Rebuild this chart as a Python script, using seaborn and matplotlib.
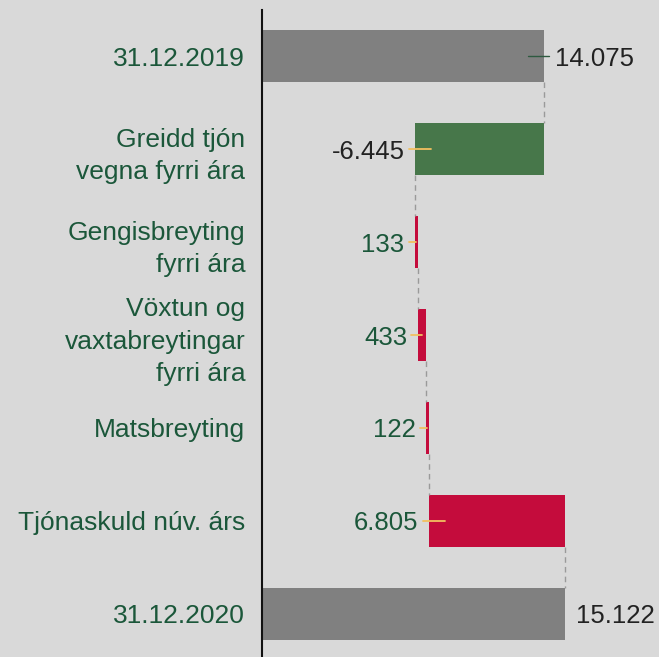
import numpy as np
import pandas as pd
import matplotlib
matplotlib.use("Agg")
import matplotlib.pyplot as plt
import seaborn as sns

# --- Data ---
categories = ["31.12.2019", "Greidd tjón\nvegna fyrri ára", "Gengisbreyting\nfyrri ára",
              "Vöxtun og\nvaxtabreytingar\nfyrri ára", "Matsbreyting",
              "Tjónaskuld núv. árs", "31.12.2020"]
values = [14075, -6445, 133, 433, 122, 6805, 15122]
is_total = [True, False, False, False, False, False, True]
value_labels = ["14.075", "-6.445", "133", "433", "122", "6.805", "15.122"]

BG = "#d9d9d9"
GRAY = "#808080"
GREEN = "#47774a"
RED = "#c40c3c"
TXT_GREEN = "#1b573a"

# waterfall geometry
lefts, widths, ends = [], [], []
running = 0
for v, tot in zip(values, is_total):
    if tot:
        lefts.append(0)
        widths.append(v)
        running = v
    else:
        new = running + v
        lefts.append(min(running, new))
        widths.append(abs(v))
        running = new
    ends.append(running)

df = pd.DataFrame({"cat": categories, "width": widths, "left": lefts})

sns.set_theme(style="white")
plt.rcParams["font.family"] = ["Liberation Sans", "DejaVu Sans"]

fig = plt.figure(figsize=(6.59, 6.57), dpi=100, facecolor=BG)
ax = fig.add_axes([0.3976, -0.005, 0.6024, 0.99])
ax.set_facecolor(BG)

bar_h = 0.56
sns.barplot(data=df, x="width", y="cat", orient="h", width=bar_h,
            color=GRAY, ax=ax, saturation=1)

for i, p in enumerate(ax.patches):
    p.set_x(lefts[i])
    if is_total[i]:
        p.set_facecolor(GRAY)
    elif values[i] < 0:
        p.set_facecolor(GREEN)
    else:
        p.set_facecolor(RED)
    p.set_edgecolor("none")

# connectors
for i in range(len(values) - 1):
    ax.plot([ends[i], ends[i]], [i + bar_h / 2, i + 1 - bar_h / 2],
            ls=(0, (4, 3)), color="#9a9a9a", lw=1, zorder=1)

# value labels + little marker lines
for i, (v, tot) in enumerate(zip(values, is_total)):
    if tot:
        ax.annotate(value_labels[i], (ends[i], i), xytext=(8, 0),
                    textcoords="offset points", ha="left", va="center_baseline",
                    fontsize=18.5, color="#222222")
        if i == 0:
            ax.plot([ends[i] - 800, ends[i] + 250], [i, i], color="#2e5a40", lw=1, zorder=3)
    else:
        start = lefts[i]
        col = "#222222" if v < 0 else TXT_GREEN
        ax.annotate(value_labels[i], (start, i), xytext=(-7.5, 0),
                    textcoords="offset points", ha="right", va="center_baseline",
                    fontsize=18.5, color=col)
        ax.plot([start - 300, start + min(800, abs(v) / 2)], [i, i],
                color="#f2c060", lw=1.3, zorder=3)

ax.set_xlim(0, 19820)
ax.set_ylim(6.5, -0.5)
ax.set_xlabel("")
ax.set_ylabel("")
ax.set_xticks([])
ax.tick_params(axis="y", length=0, pad=12)
for lab in ax.get_yticklabels():
    lab.set_color(TXT_GREEN)
    lab.set_fontsize(19)
    lab.set_linespacing(1.45)
for s in ["top", "right", "bottom"]:
    ax.spines[s].set_visible(False)
ax.spines["left"].set_color("#111111")
ax.spines["left"].set_linewidth(1.5)

fig.savefig("out.png", dpi=100, facecolor=BG)
